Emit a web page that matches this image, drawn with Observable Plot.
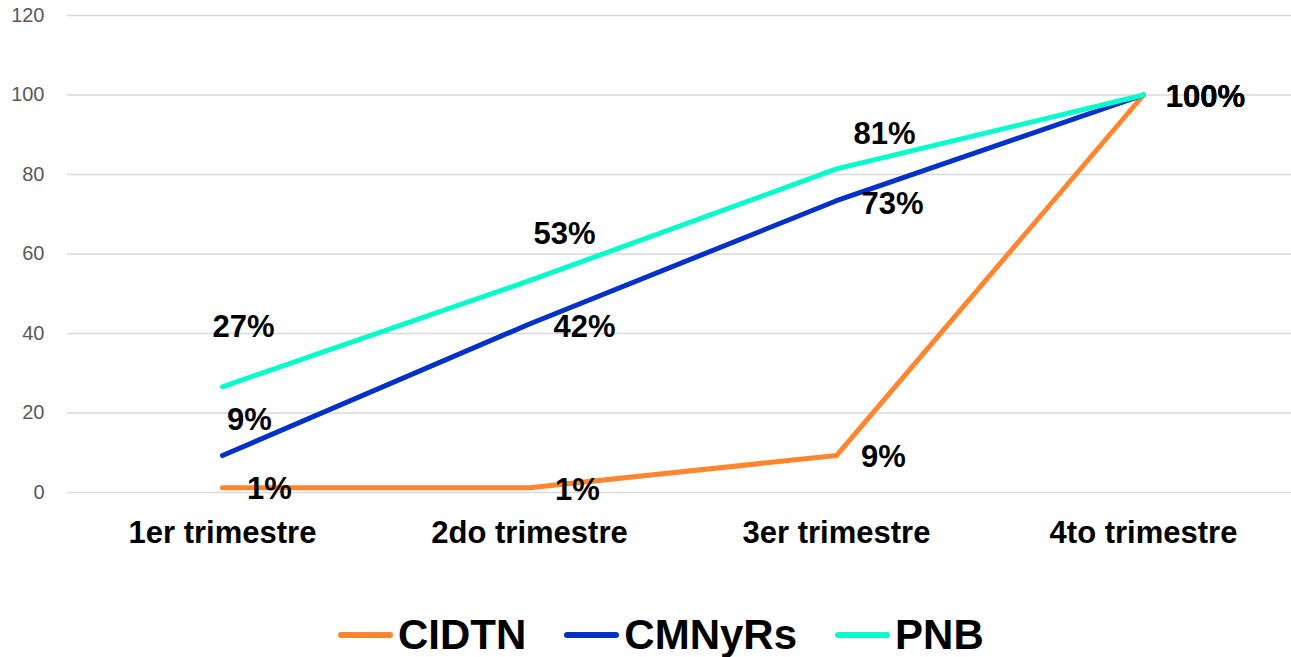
<!DOCTYPE html>
<html>
<head>
<meta charset="utf-8">
<script src="https://cdn.jsdelivr.net/npm/d3@7"></script>
<script src="https://cdn.jsdelivr.net/npm/@observablehq/plot@0.6"></script>
<style>
  html, body { margin: 0; padding: 0; background: #fff; }
  body { width: 1291px; height: 657px; overflow: hidden; font-family: "Liberation Sans", Arial, sans-serif; }
  #chart svg { overflow: hidden; }
  #legend { display: flex; align-items: center; height: 48px; padding-left: 338px; }
  .item { display: flex; align-items: center; margin-right: 38px; }
  .sw { width: 55px; height: 6px; border-radius: 3px; margin-right: 5px; }
  .lab { font-size: 42px; font-weight: bold; color: #000; line-height: 48px; }
</style>
</head>
<body>
<div id="chart"></div>
<div id="legend"></div>
<script>
const quarters = ["1er trimestre", "2do trimestre", "3er trimestre", "4to trimestre"];
const seriesNames = ["CIDTN", "CMNyRs", "PNB"];
const cidtn = [1.2, 1.2, 9.3, 100];
const cmnyrs = [9.3, 42.4, 73.4, 100];
const pnb = [26.6, 53.3, 81.4, 100];
const yTicks = [0, 20, 40, 60, 80, 100, 120];

const colors = ["#FF862F", "#0432C9", "#07FCCB"];
const seriesValues = [cidtn, cmnyrs, pnb];

const rows = [];
seriesNames.forEach((s, si) => {
  quarters.forEach((q, qi) => rows.push({series: s, quarter: q, value: seriesValues[si][qi], qi}));
});

// label offsets (pixels) per series / quarter, as placed in the original
const offsets = {
  CIDTN:  [[47, 1], [48, 2], [47, 2], [62, 2]],
  CMNyRs: [[27, -35], [55, 3], [56, 3], [62, 2]],
  PNB:    [[21, -60], [35, -47], [48, -35], [62, 2]]
};

const labelMarks = rows.map(d => Plot.text([d], {
  x: "quarter", y: "value",
  text: r => Math.round(r.value) + "%",
  dx: offsets[d.series][d.qi][0], dy: offsets[d.series][d.qi][1],
  fontSize: 31, fontWeight: "bold", fill: "#000",
  fontFamily: "Liberation Sans, Arial, sans-serif"
}));

const chart = Plot.plot({
  width: 1291,
  height: 611,
  marginTop: 15,
  marginBottom: 119,
  marginLeft: 67,
  marginRight: -6,
  style: {fontFamily: "Liberation Sans, Arial, sans-serif", background: "#fff"},
  x: {type: "point", domain: quarters, padding: 0.5, label: null},
  y: {domain: [0, 120], label: null},
  color: {domain: seriesNames, range: colors},
  marks: [
    Plot.ruleY(yTicks, {stroke: "#d9d9d9", strokeWidth: 1.5}),
    Plot.axisY({ticks: yTicks, tickSize: 0, tickPadding: 23, fontSize: 20, fill: "#595959", label: null}),
    Plot.axisX({tickSize: 0, tickPadding: 28, fontSize: 31, fontWeight: "bold", fill: "#000", label: null}),
    Plot.line(rows, {x: "quarter", y: "value", stroke: "series", z: "series",
      strokeWidth: 5, strokeLinecap: "round", strokeLinejoin: "round"}),
    ...labelMarks
  ]
});
document.getElementById("chart").appendChild(chart);

const legend = document.getElementById("legend");
seriesNames.forEach((s, i) => {
  const it = document.createElement("div");
  it.className = "item";
  const sw = document.createElement("div");
  sw.className = "sw";
  sw.style.background = colors[i];
  const lb = document.createElement("span");
  lb.className = "lab";
  lb.textContent = s;
  it.appendChild(sw); it.appendChild(lb);
  legend.appendChild(it);
});
</script>
</body>
</html>
